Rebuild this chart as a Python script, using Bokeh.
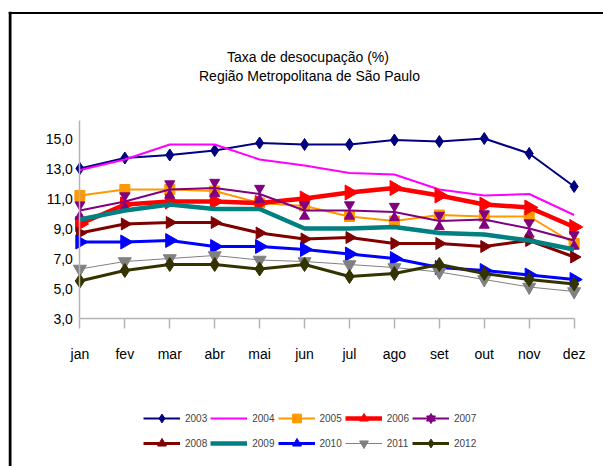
import math
from bokeh.plotting import figure
from bokeh.models import (Range1d, FixedTicker, Legend, LegendItem, Label,
                          ColumnDataSource, Span)
from bokeh.transform import dodge
from bokeh.embed import file_html
from bokeh.resources import INLINE

# ---------------- data ----------------
months = ["jan", "fev", "mar", "abr", "mai", "jun",
          "jul", "ago", "set", "out", "nov", "dez"]
yticks = [3, 5, 7, 9, 11, 13, 15]
ytick_labels = ["3,0", "5,0", "7,0", "9,0", "11,0", "13,0", "15,0"]
title_line1 = "Taxa de desocupação (%)"
title_line2 = "Região Metropolitana de São Paulo"

s2003 = [13.0, 13.7, 13.9, 14.2, 14.7, 14.6, 14.6, 14.9, 14.8, 15.0, 14.0, 11.8]
s2004 = [12.9, 13.6, 14.6, 14.6, 13.6, 13.2, 12.7, 12.6, 11.6, 11.2, 11.3, 9.9]
s2005 = [11.2, 11.6, 11.6, 11.5, 10.7, 10.5, 9.8, 9.5, 9.9, 9.8, 9.8, 8.0]
s2006 = [9.3, 10.6, 10.8, 10.8, 10.7, 11.0, 11.4, 11.7, 11.2, 10.6, 10.4, 9.1]
s2007 = [10.2, 10.8, 11.6, 11.7, 11.3, 10.2, 10.2, 10.1, 9.5, 9.6, 9.0, 8.2]
s2008 = [8.7, 9.3, 9.4, 9.4, 8.7, 8.3, 8.4, 8.0, 8.0, 7.8, 8.2, 7.1]
s2009 = [9.6, 10.2, 10.6, 10.3, 10.3, 9.0, 9.0, 9.1, 8.7, 8.6, 8.2, 7.6]
s2010 = [8.1, 8.1, 8.2, 7.8, 7.8, 7.6, 7.3, 7.0, 6.4, 6.2, 5.9, 5.6]
s2011 = [6.3, 6.8, 7.0, 7.2, 6.9, 6.8, 6.6, 6.4, 6.1, 5.6, 5.1, 4.8]
s2012 = [5.5, 6.2, 6.6, 6.6, 6.3, 6.6, 5.8, 6.0, 6.6, 6.0, 5.6, 5.3]

years = ["2003", "2004", "2005", "2006", "2007",
         "2008", "2009", "2010", "2011", "2012"]
values = [s2003, s2004, s2005, s2006, s2007, s2008, s2009, s2010, s2011, s2012]

# ---------------- styles ----------------
FONT = "Liberation Sans"
styles = {
    "2003": dict(color="#000080", lw=2, marker="diamond", size=12),
    "2004": dict(color="#FF00FF", lw=2, marker=None, size=0),
    "2005": dict(color="#FF9900", lw=2, marker="square", size=10),
    "2006": dict(color="#FF0000", lw=4.5, marker="triangle_r", size=15),
    "2007": dict(color="#800080", lw=2, marker="hourglass", size=10),
    "2008": dict(color="#800000", lw=3, marker="triangle_r", size=12),
    "2009": dict(color="#008080", lw=4.5, marker=None, size=0),
    "2010": dict(color="#0000FF", lw=3, marker="triangle_r", size=14),
    "2011": dict(color="#808080", lw=1, marker="inverted_triangle", size=13),
    "2012": dict(color="#333300", lw=3, marker="diamond", size=14),
}

PX_X = 44.93   # pixels per month
PX_Y = 15.0    # pixels per unit
FRAME_W, FRAME_H = 595, 455
X0_PX = 71.4   # first month distance from frame left
Y3_PX = 148.0  # value 3 distance from frame bottom
x_start = -X0_PX / PX_X
y_start = yticks[0] - Y3_PX / PX_Y

p = figure(frame_width=FRAME_W, frame_height=FRAME_H,
           x_range=Range1d(x_start, x_start + FRAME_W / PX_X),
           y_range=Range1d(y_start, y_start + FRAME_H / PX_Y),
           output_backend="svg", toolbar_location=None,
           min_border_left=8, min_border_right=0,
           min_border_top=11, min_border_bottom=0)
p.background_fill_color = "white"
p.border_fill_color = "white"
p.outline_line_color = None
p.grid.grid_line_color = None

AXIS_GRAY = "#b4b4b4"
# axes
xa = p.xaxis[0]
xa.fixed_location = yticks[0]
xa.ticker = FixedTicker(ticks=list(range(len(months))))
xa.major_label_overrides = {i: m for i, m in enumerate(months)}
xa.bounds = (0, len(months) - 1)
xa.axis_line_color = AXIS_GRAY
xa.axis_line_width = 1.5
xa.major_tick_line_color = AXIS_GRAY
xa.major_tick_line_width = 1.5
xa.major_tick_out = 10
xa.major_tick_in = 0
xa.minor_tick_line_color = None
xa.major_label_standoff = 17
xa.major_label_text_font = FONT
xa.major_label_text_font_size = "14px"
xa.major_label_text_color = "black"

ya = p.yaxis[0]
ya.fixed_location = 0
ya.ticker = FixedTicker(ticks=yticks)
ya.major_label_overrides = {t: l for t, l in zip(yticks, ytick_labels)}
ya.bounds = (yticks[0], 16.2)
ya.axis_line_color = AXIS_GRAY
ya.axis_line_width = 1.5
ya.major_tick_line_color = None
ya.major_tick_out = 0
ya.major_tick_in = 0
ya.minor_tick_line_color = None
ya.major_label_standoff = 7
ya.major_label_text_font = FONT
ya.major_label_text_font_size = "14px"
ya.major_label_text_color = "black"

# chart-area border (left and top edges)
p.add_layout(Span(location=p.x_range.start + 1.5 / PX_X, dimension="height",
                  line_color="black", line_width=3))
p.add_layout(Span(location=p.y_range.end - 1.6 / PX_Y, dimension="width",
                  line_color="black", line_width=2))

# titles (screen units from the frame's bottom-left corner)
p.add_layout(Label(x=299.5, y=FRAME_H + 11 - 56, x_units="screen",
                   y_units="screen", text=title_line1, text_align="center",
                   text_baseline="alphabetic", text_font=FONT,
                   text_font_size="14px", text_color="black"))
p.add_layout(Label(x=301, y=FRAME_H + 11 - 75, x_units="screen",
                   y_units="screen", text=title_line2, text_align="center",
                   text_baseline="alphabetic", text_font=FONT,
                   text_font_size="14px", text_color="black"))

items = []
xs = list(range(len(months)))
for yr, vals in zip(years, values):
    st = styles[yr]
    src = ColumnDataSource(dict(x=xs, y=vals))
    rs = []
    rs.append(p.line("x", "y", source=src, line_color=st["color"],
                     line_width=st["lw"], line_join="round"))
    m = st["marker"]
    if m == "triangle_r":
        rs.append(p.scatter("x", "y", source=src, marker="triangle",
                            angle=-math.pi / 2, size=st["size"],
                            fill_color=st["color"], line_color=st["color"]))
    elif m == "hourglass":
        off = (2 * 0.866 * st["size"] / 3) / PX_Y
        rs.append(p.scatter("x", dodge("y", off), source=src,
                            marker="inverted_triangle", size=st["size"],
                            fill_color=st["color"], line_color=st["color"]))
        rs.append(p.scatter("x", dodge("y", -off), source=src,
                            marker="triangle", size=st["size"],
                            fill_color=st["color"], line_color=st["color"]))
    elif m is not None:
        rs.append(p.scatter("x", "y", source=src, marker=m, size=st["size"],
                            fill_color=st["color"], line_color=st["color"]))
    items.append(LegendItem(label=yr, renderers=rs))

legend = Legend(items=items, orientation="horizontal", ncols=5,
                location=(135, 12), glyph_width=37, glyph_height=22,
                label_standoff=5, label_width=20, spacing=3, padding=0,
                margin=0, border_line_color=None, background_fill_alpha=0,
                label_text_font=FONT, label_text_font_size="10px")
p.add_layout(legend, "center")

open("out.html", "w").write(file_html(p, INLINE))
